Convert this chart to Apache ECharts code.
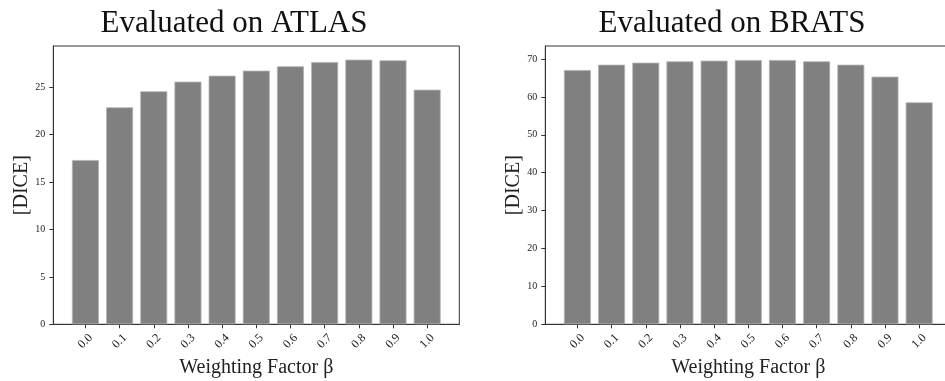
<!DOCTYPE html>
<html>
<head>
<meta charset="utf-8">
<script src="https://cdn.jsdelivr.net/npm/echarts@6/dist/echarts.min.js"></script>
<style>
html,body{margin:0;padding:0;background:#fff;}
#c{width:945px;height:381px;}
</style>
</head>
<body>
<div id="c"></div>
<script>
const categories = ['0.0','0.1','0.2','0.3','0.4','0.5','0.6','0.7','0.8','0.9','1.0'];
const atlasValues = [17.33, 22.89, 24.58, 25.60, 26.23, 26.76, 27.22, 27.67, 27.92, 27.85, 24.75];
const bratsValues = [67.1, 68.5, 69.03, 69.39, 69.56, 69.74, 69.74, 69.39, 68.5, 65.34, 58.57];
const atlasTicks = [0, 5, 10, 15, 20, 25];
const bratsTicks = [0, 10, 20, 30, 40, 50, 60, 70];
const titles = ['Evaluated on ATLAS', 'Evaluated on BRATS'];
const xName = 'Weighting Factor \u03B2';
const yName = '[DICE]';

const FONT = '"Liberation Serif", "DejaVu Serif", serif';
const idx = categories.map((_, i) => i);

function xAxisOf(gi) {
  return {
    type: 'value', gridIndex: gi, min: -0.94, max: 10.94,
    name: xName, nameLocation: 'middle', nameGap: 17,
    nameTextStyle: {fontFamily: FONT, fontSize: 20, color: '#222'},
    axisLine: {show: true, onZero: false, lineStyle: {color: '#333', width: 1}},
    axisTick: {show: true, length: 4, customValues: idx, lineStyle: {color: '#333'}},
    axisLabel: {customValues: idx, rotate: 45, align: 'center', verticalAlign: 'middle', margin: 17,
      fontFamily: FONT, fontSize: 12, color: '#222',
      formatter: v => categories[Math.round(v)]},
    splitLine: {show: false}
  };
}
function yAxisOf(gi, maxV, ticks) {
  return {
    type: 'value', gridIndex: gi, min: 0, max: maxV,
    name: yName, nameLocation: 'middle', nameGap: 21,
    nameTextStyle: {fontFamily: FONT, fontSize: 20, color: '#222'},
    axisLine: {show: true, onZero: false, lineStyle: {color: '#333', width: 1}},
    axisTick: {show: true, length: 4, customValues: ticks, lineStyle: {color: '#333'}},
    axisLabel: {customValues: ticks, margin: 8, fontFamily: FONT, fontSize: 10, color: '#222'},
    splitLine: {show: false}
  };
}
function barSeries(gi, vals) {
  return {
    type: 'bar', xAxisIndex: gi, yAxisIndex: gi,
    data: vals.map((v, i) => [i, v]),
    barWidth: 27,
    itemStyle: {color: '#808080', borderColor: '#b4b4b4', borderWidth: 0.8},
    silent: true
  };
}

const chart = echarts.init(document.getElementById('c'), null, {renderer: 'canvas'});
chart.setOption({
  animation: false,
  backgroundColor: '#fff',
  title: [
    {text: titles[0], left: 229, top: 3, textAlign: 'center',
     textStyle: {fontFamily: FONT, fontSize: 31, fontWeight: 'normal', color: '#111'}},
    {text: titles[1], left: 727, top: 3, textAlign: 'center',
     textStyle: {fontFamily: FONT, fontSize: 31, fontWeight: 'normal', color: '#111'}}
  ],
  grid: [
    {left: 53.3, top: 46, width: 406, height: 278.3, show: true, borderColor: '#333', borderWidth: 1, backgroundColor: 'transparent', containLabel: false, outerBoundsMode: 'none'},
    {left: 545.3, top: 46, width: 406, height: 278.3, show: true, borderColor: '#333', borderWidth: 1, backgroundColor: 'transparent', containLabel: false, outerBoundsMode: 'none'}
  ],
  xAxis: [xAxisOf(0), xAxisOf(1)],
  yAxis: [yAxisOf(0, 29.36, atlasTicks), yAxisOf(1, 73.43, bratsTicks)],
  series: [barSeries(0, atlasValues), barSeries(1, bratsValues)]
});
</script>
</body>
</html>
